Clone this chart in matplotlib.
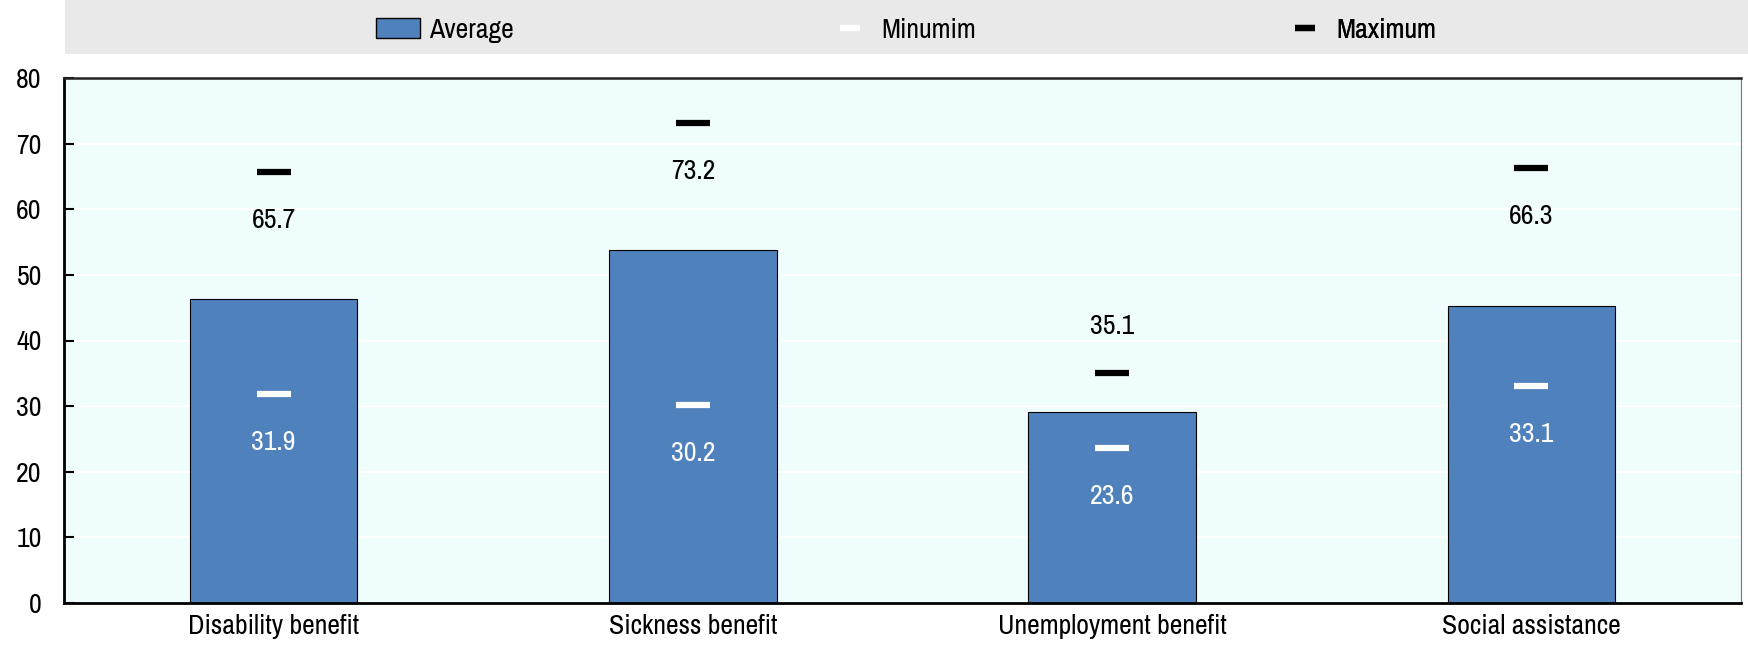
import matplotlib.pyplot as plt
from matplotlib.patches import Patch
from matplotlib.lines import Line2D
import numpy as np

plt.rcParams['font.family'] = ['Archivo Narrow', 'Roboto Condensed', 'Liberation Sans', 'DejaVu Sans']

# 数据
categories = ['Disability benefit', 'Sickness benefit', 'Unemployment benefit', 'Social assistance']
average = [46.4, 53.8, 29.1, 45.2]
minimum = [31.9, 30.2, 23.6, 33.1]
maximum = [65.7, 73.2, 35.1, 66.3]

bar_color = '#4f81bd'
bg_color = '#f0fdfd'
fs = 20

fig = plt.figure(figsize=(17.48, 6.49), dpi=100)
ax = fig.add_axes([64 / 1748, 1 - 603 / 649, (1741 - 64) / 1748, (603 - 78) / 649])
ax.set_facecolor(bg_color)

x = np.arange(len(categories))
ax.bar(x, average, width=0.4, color=bar_color, edgecolor='black', linewidth=0.8, zorder=2)
ax.plot(x, minimum, linestyle='none', marker='_', markersize=24, markeredgewidth=4.5,
        color='white', zorder=3)
ax.plot(x, maximum, linestyle='none', marker='_', markersize=24, markeredgewidth=4.5,
        color='black', zorder=3)

# 数值标签
for i in range(len(x)):
    ax.text(x[i], minimum[i] - 7.4, f'{minimum[i]:.1f}', ha='center', va='center',
            color='white', fontsize=fs)
    # 最大值标签一般在下方，若与柱子重叠则放在上方
    if maximum[i] - 7.4 < average[i] + 3:
        ymax_lab = maximum[i] + 7.0
    else:
        ymax_lab = maximum[i] - 7.4
    ax.text(x[i], ymax_lab, f'{maximum[i]:.1f}', ha='center', va='center',
            color='black', fontsize=fs)

ax.set_xlim(-0.5, len(categories) - 0.5)
ax.set_ylim(0, 80)
ax.set_yticks(range(0, 81, 10))
ax.set_xticks(x)
ax.set_xticklabels(categories, fontsize=fs)
ax.tick_params(axis='y', direction='in', length=7, width=1.5, labelsize=fs, pad=16)
ax.tick_params(axis='x', length=0, pad=8)
ax.grid(axis='y', color='white', linewidth=1.5, zorder=1)
ax.set_axisbelow(True)

for s in ['left', 'bottom']:
    ax.spines[s].set_linewidth(2)
    ax.spines[s].set_color('black')
ax.spines['top'].set_linewidth(1.8)
ax.spines['top'].set_color('#222222')
ax.spines['right'].set_linewidth(0.8)
ax.spines['right'].set_color('#777777')

# 图例条
lax = fig.add_axes([65 / 1748, 1 - 54 / 649, (1748 - 65) / 1748, 54 / 649])
lax.set_facecolor('#e9e9e9')
lax.set_xticks([])
lax.set_yticks([])
for s in lax.spines.values():
    s.set_visible(False)

items = [
    (Patch(facecolor=bar_color, edgecolor='black', linewidth=1.0), 'Average', 376),
    (Line2D([], [], linestyle='none', marker='_', markersize=14, markeredgewidth=4.5, color='white'), 'Minumim', 828),
    (Line2D([], [], linestyle='none', marker='_', markersize=14, markeredgewidth=4.5, color='black'), 'Maximum', 1283),
]
for h, lab, px in items:
    leg = lax.legend([h], [lab], loc='center left', frameon=False, fontsize=fs,
                     bbox_to_anchor=((px - 65) / (1748 - 65), 0.44),
                     handlelength=1.6, handletextpad=0.3, borderaxespad=0, borderpad=0)
    lax.add_artist(leg)

fig.savefig('out.png', dpi=100)
